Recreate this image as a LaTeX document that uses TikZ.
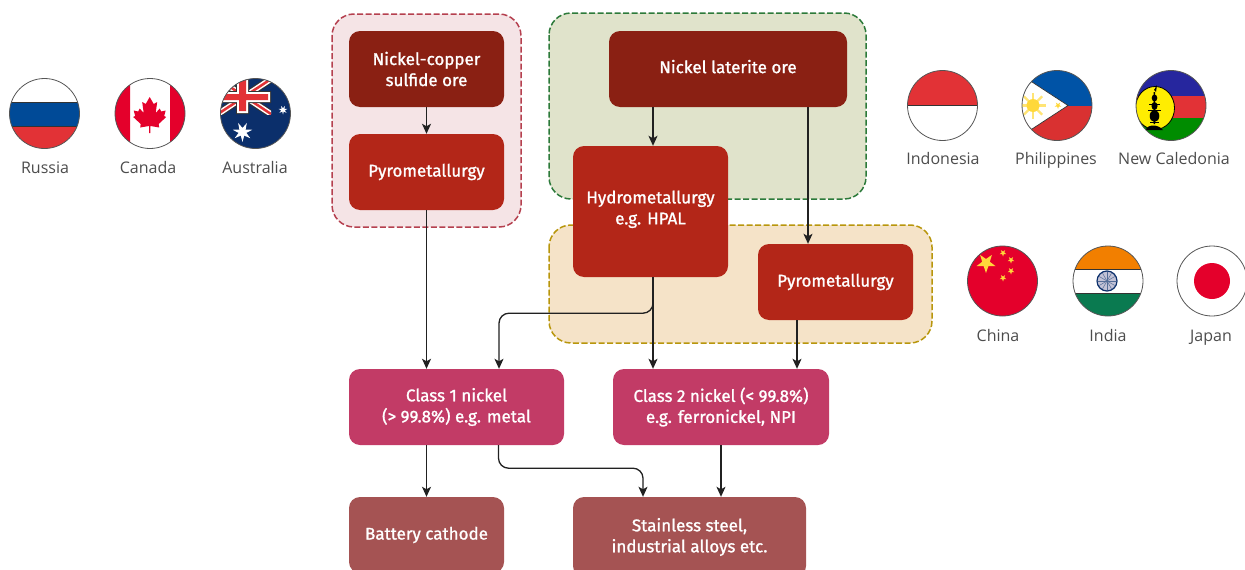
\documentclass[tikz,border=0pt]{standalone}
\usepackage{fontspec}
\setmainfont{Open Sans}
\newfontfamily\boxfont[FakeBold=1.2]{Fira Sans}
\usetikzlibrary{arrows.meta}
\definecolor{orebrown}{HTML}{8A2013}
\definecolor{pyrored}{HTML}{B32618}
\definecolor{classpink}{HTML}{C23B66}
\definecolor{usemauve}{HTML}{A55353}
\definecolor{flagnavy}{HTML}{0B2F6B}
\definecolor{flagred}{HTML}{E4002B}
\definecolor{softred}{HTML}{E23236}
\definecolor{rimgrey}{HTML}{555555}
\definecolor{sunyellow}{HTML}{FFD83A}
\definecolor{russiablue}{HTML}{004A97}
\definecolor{indiaorange}{HTML}{F27F00}
\definecolor{indiagreen}{HTML}{0A7A50}
\definecolor{sulfideline}{HTML}{B5404F}
\definecolor{sulfidefill}{HTML}{F5E4E6}
\definecolor{lateriteline}{HTML}{2C7A3A}
\definecolor{lateritefill}{HTML}{E0E3CB}
\definecolor{smeltline}{HTML}{B8960C}
\definecolor{smeltfill}{HTML}{F5E3C8}
\tikzset{
  flowbox/.style={rectangle,rounded corners=11pt,text=white,align=center,font=\boxfont\fontsize{17}{21}\selectfont,inner sep=0pt},
  orebox/.style={flowbox,fill=orebrown},
  pyrobox/.style={flowbox,fill=pyrored},
  classbox/.style={flowbox,fill=classpink},
  usebox/.style={flowbox,fill=usemauve},
  regionbox/.style={rounded corners=22pt,dashed,dash pattern=on 6pt off 2.5pt,line width=1.5pt},
  link/.style={draw=black!87,line width=1.3pt,rounded corners=10pt,-{Stealth[length=10pt,width=9pt,inset=2.5pt]}},
  flaglabel/.style={text=black!70,font=\fontsize{16}{18}\selectfont,inner sep=0pt,anchor=base},
  flagrim/.style={draw=rimgrey,line width=0.8pt},
  bandline/.style={draw=black!80,line width=0.9pt}
}
% star centred on x,y with radius and number of points
\newcommand{\flagstar}[5]{%
  \pgfmathtruncatemacro{\starlast}{2*#4-1}
  \fill[#5,shift={(#1,#2)}] plot[samples at={0,...,\starlast}] ({90+\x*180/#4}:{#3*(1-0.6*mod(\x,2))}) -- cycle;
}
\begin{document}
\begin{tikzpicture}[x=1pt,y=-1pt]
\clip (0,0) rectangle (1245,570);

% regions
\draw[regionbox,draw=sulfideline,fill=sulfidefill] (332,14) rectangle (521,227);
\draw[regionbox,draw=lateriteline,fill=lateritefill] (549,13) rectangle (866,199);
\draw[regionbox,draw=smeltline,fill=smeltfill] (549,225) rectangle (932,343);

% boxes
\node[orebox,minimum width=155pt,minimum height=76pt] (sulfide) at (426.5,69) {Nickel-copper\\sulfide ore};
\node[pyrobox,minimum width=155pt,minimum height=76pt] (pyroleft) at (426.5,172) {Pyrometallurgy};
\node[orebox,minimum width=238pt,minimum height=76pt,text depth=5pt] (laterite) at (728,69) {Nickel laterite ore};
\node[pyrobox,minimum width=155pt,minimum height=131pt,text depth=8pt] (hydro) at (650.5,211.5) {Hydrometallurgy\\e.g. HPAL};
\node[pyrobox,minimum width=155pt,minimum height=76pt] (pyroright) at (835.5,282) {Pyrometallurgy};
\node[classbox,minimum width=215pt,minimum height=76pt] (classone) at (456.5,407) {Class 1 nickel\\(> 99.8\%) e.g. metal};
\node[classbox,minimum width=216pt,minimum height=76pt] (classtwo) at (721,407) {Class 2 nickel (< 99.8\%)\\e.g. ferronickel, NPI};
\node[usebox,minimum width=155pt,minimum height=76pt] (battery) at (426.5,535) {Battery cathode};
\node[usebox,minimum width=233pt,minimum height=80pt] (steel) at (689.5,537) {Stainless steel,\\industrial alloys etc.};

% connectors
\draw[link] (sulfide) -- (pyroleft);
\draw[link] (pyroleft) -- (pyroleft |- classone.north);
\draw[link] ([xshift=2.5pt]hydro.north |- laterite.south) -- ([xshift=2.5pt]hydro.north);
\draw[link] ([xshift=80pt]laterite.south) -- ([xshift=-27.5pt]pyroright.north);
\draw[link] ([xshift=2.5pt]hydro.south) -- ([xshift=-68pt]classtwo.north);
\draw[link] ([xshift=2.5pt]hydro.south) |- ++(-77,36) -| ([xshift=42.5pt]classone.north);
\draw[link] ([xshift=-38.5pt]pyroright.south) -- ([xshift=76pt]classtwo.north);
\draw[link] (battery |- classone.south) -- (battery);
\draw[link] ([xshift=42pt]classone.south) |- ++(72,23) -| ([xshift=-46.5pt]steel.north);
\draw[link] (classtwo) -- (classtwo |- steel.north);

% Russia
\coordinate (russia) at (44.5,113.5);
\begin{scope}
  \clip (russia) circle (35);
  \fill[russiablue] (9,102) rectangle (80,126);
  \fill[softred] (9,126) rectangle (80,150);
  \draw[bandline] (9,102) -- (80,102) (9,126) -- (80,126);
\end{scope}
\draw[flagrim] (russia) circle (35);
\node[flaglabel] (russialabel) at (45,173) {Russia};

% Canada
\coordinate (canada) at (150,113.5);
\begin{scope}
  \clip (canada) circle (35);
  \fill[flagred] (115,78) rectangle (130,150) (170,78) rectangle (186,150);
  \fill[flagred,shift={(149.7,0)}] (0,97) -- (4,104) -- (7.5,102) -- (6,113) -- (10,108.5) -- (11.5,111.5) -- (16,110.5) -- (14.5,116) -- (16.5,117) -- (9,124) -- (9.5,127.5) -- (0.7,126) -- (0.7,133)
    -- (-0.7,133) -- (-0.7,126) -- (-9.5,127.5) -- (-9,124) -- (-16.5,117) -- (-14.5,116) -- (-16,110.5) -- (-11.5,111.5) -- (-10,108.5) -- (-6,113) -- (-7.5,102) -- (-4,104) -- cycle;
\end{scope}
\draw[flagrim] (canada) circle (35);
\node[flaglabel] (canadalabel) at (148,173) {Canada};

% Australia
\coordinate (australia) at (255.5,113.5);
\begin{scope}
  \clip (australia) circle (35);
  \fill[flagnavy] (220,78) rectangle (291,149);
  \begin{scope}
    \clip (215,75) rectangle (271,114);
    \draw[black!80,line width=7.5pt] (218,79) -- (271,114) (271,79) -- (218,114);
    \draw[white,line width=5.5pt] (218,79) -- (271,114) (271,79) -- (218,114);
    \draw[softred,line width=2.5pt] (218,79) -- (271,114) (271,79) -- (218,114);
  \end{scope}
  \fill[black!80] (236,75) rectangle (249,114) (215,91) rectangle (271,103);
  \fill[white] (237,75) rectangle (248,113) (215,92) rectangle (270,102);
  \fill[softred] (239,75) rectangle (246,111) (215,94) rectangle (268,100);
\end{scope}
\flagstar{242.5}{132}{10}{7}{white}
\flagstar{283}{110}{4.5}{7}{white}
\draw[flagrim] (australia) circle (35);
\node[flaglabel] (australialabel) at (255,173) {Australia};

% Indonesia
\coordinate (indonesia) at (942.5,105.5);
\begin{scope}
  \clip (indonesia) circle (35);
  \fill[softred] (907,70) rectangle (978,105.5);
  \draw[bandline] (907,105.5) -- (978,105.5);
\end{scope}
\draw[flagrim] (indonesia) circle (35);
\node[flaglabel] (indonesialabel) at (943,164) {Indonesia};

% Philippines
\coordinate (philippines) at (1057,105.5);
\begin{scope}
  \clip (philippines) circle (35);
  \fill[blue!50!cyan!65!black] (1022,70) rectangle (1093,105.5);
  \fill[red!70!pink!85!black] (1022,105.5) rectangle (1093,141);
  \fill[white,draw=black!80,line width=0.7pt] (1068,105.5) -- (1032,82) -- (1015,82) -- (1015,129) -- (1032,129) -- cycle;
  \foreach \ray in {0,45,...,315}{
    \draw[sunyellow!70,line width=2.2pt] (1033,105.5) -- ++(\ray:13);
  }
  \fill[sunyellow] (1033,105.5) circle (6.5);
\end{scope}
\flagstar{1058}{105.5}{3.5}{5}{sunyellow}
\draw[flagrim] (philippines) circle (35);
\node[flaglabel] (philippineslabel) at (1056,164) {Philippines};

% New Caledonia
\coordinate (caledonia) at (1171,105.5);
\begin{scope}
  \clip (caledonia) circle (35);
  \fill[blue!55!black!85] (1135,70) rectangle (1207,96);
  \fill[softred] (1135,96) rectangle (1207,118);
  \fill[green!55!black] (1135,118) rectangle (1207,141);
  \fill[yellow!95!orange,draw=black,line width=0.8pt] (1155,108) ellipse (19.5 and 21.5);
  \fill[black] (1145,130) .. controls (1148,124) and (1158,124) .. (1163,130) -- cycle;
  \fill[black] (1153.5,92) rectangle (1155,124) (1154,90) -- (1157,85) -- (1156,92) -- cycle;
  \foreach \blobx/\bloby/\blobw/\blobh in {1154.5/98/2.8/3.5,1154.5/106/3/4,1154.5/116/4.8/6}{
    \fill[black] (\blobx,\bloby) ellipse ({\blobw} and {\blobh});
  }
  \draw[black,line width=0.8pt] (1149,104) -- (1160,104) (1148,110) -- (1161,110) (1150,122) -- (1159,122);
\end{scope}
\draw[flagrim] (caledonia) circle (35);
\node[flaglabel] (caledonialabel) at (1174,164) {New Caledonia};

% China
\coordinate (china) at (1002.5,281);
\fill[flagred] (china) circle (35);
\flagstar{986}{263}{10}{5}{sunyellow}
\foreach \starx/\stary in {1003/253,1011/260,1011/271,1003/278}{
  \flagstar{\starx}{\stary}{3.5}{5}{sunyellow}
}
\draw[flagrim] (china) circle (35);
\node[flaglabel] (chinalabel) at (998,341) {China};

% India
\coordinate (india) at (1108,281);
\begin{scope}
  \clip (india) circle (35);
  \fill[indiaorange] (1072,245) rectangle (1144,269.5);
  \fill[indiagreen] (1072,293) rectangle (1144,317);
  \draw[bandline] (1072,269.5) -- (1144,269.5) (1072,293) -- (1144,293);
\end{scope}
\fill[blue!20!gray!40!white,draw=flagnavy,line width=1.2pt] (1107,281) circle (10);
\foreach \spoke in {0,30,...,330}{
  \draw[flagnavy!70,line width=0.5pt] (1107,281) -- ++(\spoke:9);
}
\draw[flagrim] (india) circle (35);
\node[flaglabel] (indialabel) at (1108,341) {India};

% Japan
\coordinate (japan) at (1212,281);
\fill[flagred] (japan) circle (18);
\draw[flagrim] (japan) circle (35);
\node[flaglabel] (japanlabel) at (1211,341) {Japan};
\end{tikzpicture}
\end{document}
